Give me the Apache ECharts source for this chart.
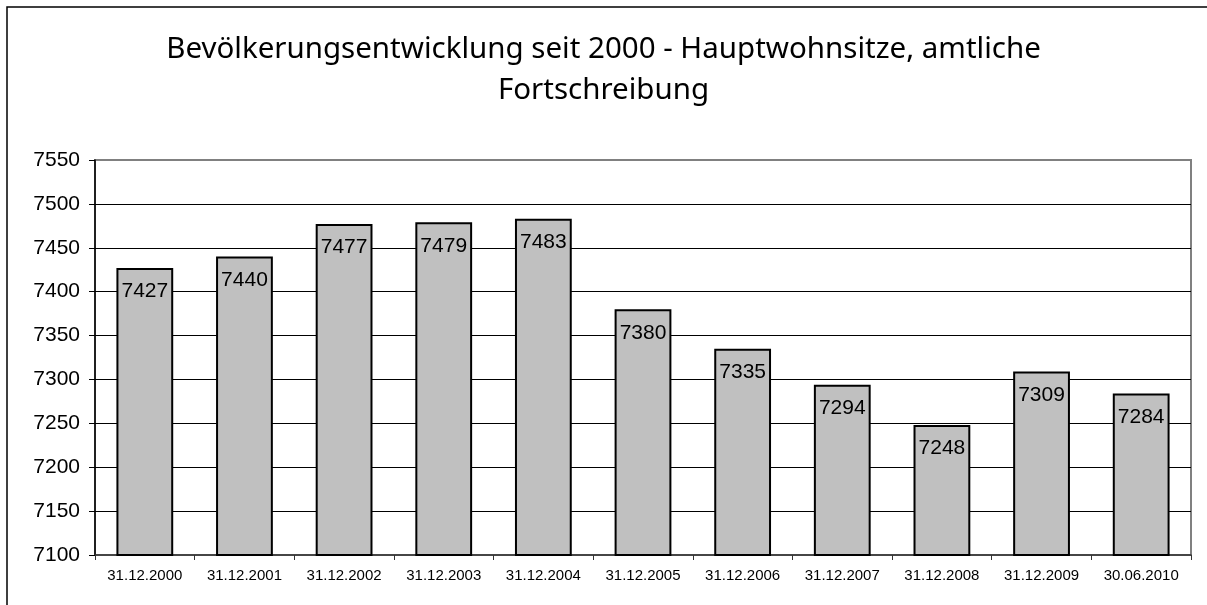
<!DOCTYPE html>
<html>
<head>
<meta charset="utf-8">
<script src="https://cdn.jsdelivr.net/npm/echarts@6/dist/echarts.min.js"></script>
<style>
  html, body { margin: 0; padding: 0; background: #fff; }
  #chart { width: 1207px; height: 605px; }
</style>
</head>
<body>
<div id="chart"></div>
<script>
  // Stichtage und Einwohnerzahlen (Hauptwohnsitze)
  const dates = ['31.12.2000', '31.12.2001', '31.12.2002', '31.12.2003', '31.12.2004',
    '31.12.2005', '31.12.2006', '31.12.2007', '31.12.2008', '31.12.2009', '30.06.2010'];
  const einwohner = [7427, 7440, 7477, 7479, 7483, 7380, 7335, 7294, 7248, 7309, 7284];
  const yMin = 7100, yMax = 7550, yStep = 50;

  // gridline colours: lowest and highest are the gray plot frame
  const splitColors = ['#808080', '#000', '#000', '#000', '#000', '#000', '#000', '#000', '#000', '#808080'];

  let chart = echarts.init(document.getElementById('chart'));
  chart.setOption({
    animation: false,
    title: {
      text: 'Bevölkerungsentwicklung seit 2000 - Hauptwohnsitze, amtliche\nFortschreibung',
      left: 'center',
      top: 24,
      textStyle: {
        fontFamily: 'Noto Sans',
        fontWeight: 'normal',
        fontSize: 29.5,
        lineHeight: 41,
        color: '#000'
      }
    },
    graphic: [{
      type: 'rect',
      shape: { x: 7, y: 7, width: 1400, height: 800 },
      style: { fill: 'none', stroke: '#000', lineWidth: 1.5 },
      silent: true
    }],
    grid: {
      left: 95, right: 16, top: 160, bottom: 50,
      show: true, borderColor: '#808080', borderWidth: 2
    },
    xAxis: {
      type: 'category',
      data: dates,
      axisLine: { lineStyle: { color: '#333', width: 1.5 } },
      axisTick: { show: true, length: 5, lineStyle: { color: '#333' } },
      axisLabel: { fontFamily: 'Liberation Sans', fontSize: 15, color: '#000', margin: 13, interval: 0 }
    },
    yAxis: {
      type: 'value',
      min: yMin, max: yMax, interval: yStep,
      axisLine: { show: true, lineStyle: { color: '#000', width: 1.5 } },
      axisTick: { show: true, length: 6, lineStyle: { color: '#000' } },
      axisLabel: {
        fontFamily: 'Liberation Sans', fontSize: 21, color: '#000', margin: 15,
        formatter: function (v) { return String(v); }
      },
      splitLine: { show: true, lineStyle: { color: splitColors, width: 1 } }
    },
    series: [{
      type: 'bar',
      data: einwohner,
      barWidth: '57%',
      itemStyle: { color: '#c0c0c0', borderColor: '#000', borderWidth: 2 },
      label: {
        show: true,
        position: 'insideTop',
        distance: 13,
        fontFamily: 'Liberation Sans',
        fontSize: 21,
        color: '#000'
      }
    }]
  });
</script>
</body>
</html>
